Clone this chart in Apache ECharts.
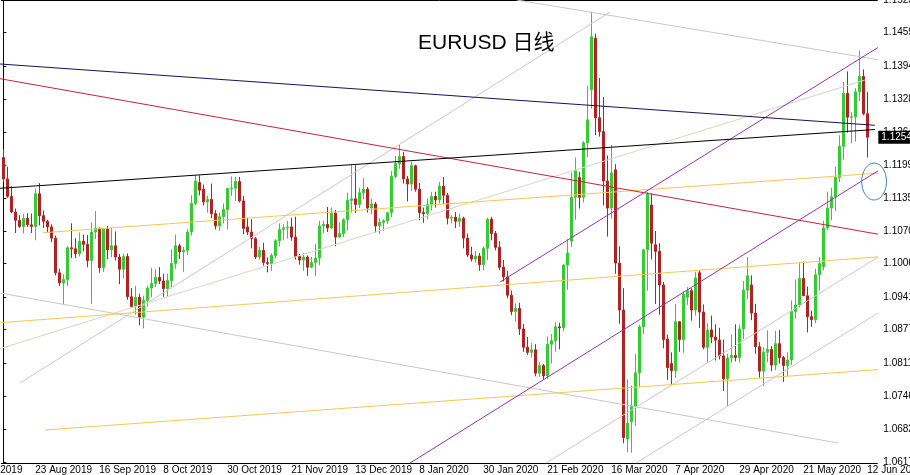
<!DOCTYPE html>
<html><head><meta charset="utf-8">
<script src="https://cdn.jsdelivr.net/npm/echarts@6/dist/echarts.min.js"></script>
<style>html,body{margin:0;padding:0;background:#fff}#c{width:910px;height:475px}</style>
</head><body><div id="c"></div>
<script>
// ---- DATA ----
const holidays = ['2019-12-25', '2020-01-01'];
// daily bars 13 Aug 2019 .. 12 Jun 2020 : [open, high, low, close]
const ohlc = [
[1.1214,1.1230,1.1166,1.1172],[1.1172,1.1196,1.1135,1.1138],[1.1138,1.1158,1.1105,1.1107],[1.1107,1.1114,1.1066,1.1091],
[1.1091,1.1101,1.1076,1.1079],[1.1079,1.1104,1.1065,1.1095],[1.1095,1.1105,1.1078,1.1082],[1.1082,1.1104,1.1066,1.1079],
[1.1079,1.1153,1.1052,1.1143],[1.1143,1.1164,1.1081,1.1100],[1.1100,1.1110,1.1076,1.1089],[1.1089,1.1092,1.1066,1.1078],
[1.1078,1.1083,1.1048,1.1056],[1.1056,1.1061,1.0983,1.0988],[1.0988,1.0996,1.0962,1.0968],[1.0968,1.0985,1.0926,1.0975],
[1.0975,1.1040,1.0962,1.1037],[1.1037,1.1085,1.1017,1.1035],[1.1035,1.1056,1.1017,1.1026],[1.1026,1.1067,1.1020,1.1050],
[1.1050,1.1063,1.1030,1.1044],[1.1044,1.1062,1.0999,1.1012],[1.1012,1.1087,1.0927,1.1068],[1.1068,1.1109,1.1054,1.1075],
[1.1075,1.1077,1.0988,1.0998],[1.0998,1.1075,1.0990,1.1074],[1.1074,1.1080,1.1015,1.1033],[1.1033,1.1076,1.1019,1.1041],
[1.1041,1.1069,1.1012,1.1019],[1.1019,1.1025,1.0966,1.0995],[1.0995,1.1025,1.0977,1.1020],[1.1020,1.1026,1.0935,1.0941],
[1.0941,1.0958,1.0920,1.0922],[1.0922,1.0962,1.0906,1.0940],[1.0940,1.0947,1.0885,1.0901],[1.0901,1.0943,1.0879,1.0934],
[1.0934,1.0963,1.0922,1.0958],[1.0958,1.0998,1.0940,1.0967],[1.0967,1.0995,1.0960,1.0979],[1.0979,1.0999,1.0966,1.0972],
[1.0972,1.0986,1.0941,1.0957],[1.0957,1.0986,1.0942,1.0973],[1.0973,1.1034,1.0960,1.1006],[1.1006,1.1063,1.0996,1.1041],
[1.1041,1.1045,1.1015,1.1029],[1.1029,1.1039,1.0990,1.1032],[1.1032,1.1074,1.1023,1.1068],[1.1068,1.1140,1.1061,1.1124],
[1.1124,1.1179,1.1120,1.1168],[1.1165,1.1179,1.1140,1.1150],[1.1152,1.1161,1.1120,1.1127],[1.1127,1.1139,1.1106,1.1132],
[1.1132,1.1163,1.1095,1.1104],[1.1104,1.1111,1.1073,1.1080],[1.1080,1.1106,1.1070,1.1098],[1.1098,1.1124,1.1085,1.1112],
[1.1112,1.1155,1.1073,1.1153],[1.1153,1.1177,1.1139,1.1154],[1.1154,1.1176,1.1129,1.1167],[1.1167,1.1176,1.1126,1.1129],
[1.1129,1.1139,1.1064,1.1075],[1.1078,1.1096,1.1062,1.1068],[1.1068,1.1093,1.1036,1.1055],[1.1055,1.1058,1.1015,1.1019],
[1.1019,1.1039,1.1014,1.1032],[1.1032,1.1047,1.1002,1.1008],[1.1008,1.1018,1.0989,1.1006],[1.1006,1.1026,1.0992,1.1022],
[1.1022,1.1054,1.1016,1.1051],[1.1051,1.1085,1.1040,1.1073],[1.1073,1.1083,1.1052,1.1076],[1.1076,1.1090,1.1055,1.1078],
[1.1078,1.1096,1.1051,1.1058],[1.1058,1.1098,1.1014,1.1020],[1.1020,1.1025,1.1004,1.1013],[1.1013,1.1027,1.0992,1.1019],
[1.1019,1.1022,1.0982,1.0999],[1.0999,1.1019,1.0997,1.1008],[1.1008,1.1045,1.0981,1.1017],[1.1017,1.1090,1.1003,1.1080],
[1.1080,1.1090,1.1066,1.1083],[1.1083,1.1117,1.1068,1.1076],[1.1076,1.1116,1.1074,1.1105],[1.1105,1.1111,1.1040,1.1058],
[1.1058,1.1087,1.1057,1.1065],[1.1065,1.1095,1.1058,1.1092],[1.1092,1.1145,1.1071,1.1130],[1.1130,1.1200,1.1106,1.1133],
[1.1133,1.1199,1.1105,1.1122],[1.1122,1.1155,1.1115,1.1145],[1.1145,1.1174,1.1132,1.1152],[1.1152,1.1156,1.1106,1.1115],
[1.1115,1.1133,1.1103,1.1123],[1.1123,1.1127,1.1067,1.1080],[1.1080,1.1095,1.1064,1.1087],[1.1087,1.1093,1.1070,1.1090],
[1.1090,1.1106,1.1084,1.1106],[1.1106,1.1188,1.1097,1.1177],[1.1177,1.1217,1.1173,1.1202],[1.1202,1.1240,1.1192,1.1216],
[1.1216,1.1225,1.1163,1.1172],[1.1172,1.1178,1.1128,1.1162],[1.1162,1.1206,1.1149,1.1198],[1.1198,1.1200,1.1147,1.1152],
[1.1152,1.1164,1.1091,1.1106],[1.1106,1.1116,1.1086,1.1104],[1.1104,1.1134,1.1093,1.1122],[1.1122,1.1147,1.1110,1.1138],
[1.1138,1.1147,1.1116,1.1131],[1.1131,1.1166,1.1124,1.1158],[1.1158,1.1176,1.1123,1.1140],[1.1140,1.1145,1.1083,1.1095],
[1.1095,1.1101,1.1085,1.1097],[1.1097,1.1107,1.1076,1.1089],[1.1089,1.1104,1.1078,1.1095],[1.1095,1.1098,1.1036,1.1056],
[1.1056,1.1065,1.1019,1.1023],[1.1023,1.1039,1.1010,1.1015],[1.1015,1.1031,1.1008,1.1021],[1.1021,1.1027,1.0992,1.1004],
[1.1004,1.1040,1.0993,1.1036],[1.1036,1.1096,1.1013,1.1093],[1.1093,1.1098,1.1052,1.1065],[1.1065,1.1070,1.1032,1.1038],
[1.1038,1.1050,1.0993,1.0999],[1.0999,1.1013,1.0971,1.0980],[1.0980,1.0992,1.0938,1.0944],[1.0944,1.0953,1.0905,1.0912],
[1.0912,1.0928,1.0892,1.0918],[1.0918,1.0929,1.0866,1.0878],[1.0878,1.0888,1.0833,1.0842],[1.0842,1.0862,1.0827,1.0832],
[1.0832,1.0850,1.0822,1.0837],[1.0837,1.0848,1.0785,1.0791],[1.0791,1.0813,1.0784,1.0806],[1.0806,1.0809,1.0778,1.0786],
[1.0786,1.0863,1.0780,1.0848],[1.0848,1.0868,1.0810,1.0855],[1.0855,1.0891,1.0833,1.0882],[1.0882,1.0890,1.0838,1.0880],
[1.0880,1.1005,1.0873,1.1003],[1.1003,1.1054,1.0955,1.1027],[1.1050,1.1185,1.1039,1.1136],[1.1136,1.1214,1.1092,1.1188],
[1.1175,1.1186,1.1114,1.1136],[1.1136,1.1246,1.1126,1.1243],[1.1243,1.1355,1.1215,1.1288],[1.1347,1.1500,1.1310,1.1451],
[1.1448,1.1457,1.1258,1.1292],[1.1292,1.1370,1.1255,1.1265],[1.1265,1.1333,1.1120,1.1168],[1.1168,1.1218,1.1059,1.1115],
[1.1115,1.1239,1.1094,1.1184],[1.1190,1.1201,1.0986,1.1007],[1.1007,1.1040,1.0888,1.0915],[1.0915,1.0958,1.0654,1.0665],
[1.0662,1.0779,1.0636,1.0693],[1.0696,1.0767,1.0635,1.0727],[1.0727,1.0829,1.0688,1.0792],[1.0792,1.0886,1.0765,1.0882],
[1.0882,1.1035,1.0868,1.1033],[1.1033,1.1147,1.0953,1.1142],[1.1121,1.1144,1.1014,1.1046],[1.1043,1.1070,1.0927,1.1030],
[1.1030,1.1046,1.0906,1.0964],[1.0964,1.0970,1.0840,1.0857],[1.0858,1.0867,1.0778,1.0802],[1.0810,1.0832,1.0769,1.0796],
[1.0796,1.0927,1.0782,1.0892],[1.0892,1.0893,1.0833,1.0857],[1.0857,1.0952,1.0831,1.0946],[1.0940,1.0960,1.0925,1.0953],
[1.0953,1.0958,1.0894,1.0915],[1.0915,1.0990,1.0904,1.0978],[1.0988,1.0993,1.0880,1.0911],[1.0911,1.0926,1.0838,1.0842],
[1.0842,1.0889,1.0812,1.0876],[1.0876,1.0904,1.0850,1.0862],[1.0862,1.0887,1.0816,1.0856],[1.0856,1.0880,1.0818,1.0825],
[1.0825,1.0857,1.0756,1.0780],[1.0780,1.0829,1.0727,1.0821],[1.0821,1.0867,1.0812,1.0826],[1.0826,1.0887,1.0814,1.0822],
[1.0822,1.0886,1.0812,1.0878],[1.0878,1.0972,1.0858,1.0954],[1.0954,1.1019,1.0936,1.0982],[1.0964,1.0983,1.0895,1.0909],
[1.0909,1.0927,1.0829,1.0843],[1.0843,1.0852,1.0782,1.0795],[1.0795,1.0842,1.0766,1.0832],[1.0832,1.0875,1.0813,1.0838],
[1.0838,1.0844,1.0795,1.0807],[1.0807,1.0874,1.0797,1.0849],[1.0849,1.0876,1.0810,1.0822],[1.0822,1.0825,1.0774,1.0806],
[1.0806,1.0832,1.0785,1.0817],[1.0817,1.0934,1.0807,1.0912],[1.0912,1.0975,1.0898,1.0925],[1.0925,1.1008,1.0920,1.0977],
[1.0977,1.1010,1.0944,1.0943],[1.0943,1.0961,1.0871,1.0902],[1.0902,1.0914,1.0882,1.0896],[1.0896,1.0996,1.0889,1.0984],
[1.0984,1.1019,1.0953,1.1006],[1.1000,1.1090,1.0993,1.1076],[1.1076,1.1147,1.1072,1.1115],[1.1115,1.1155,1.1091,1.1137],
[1.1137,1.1196,1.1109,1.1175],[1.1175,1.1258,1.1166,1.1236],[1.1236,1.1362,1.1210,1.1340],[1.1340,1.1383,1.1263,1.1293],
[1.1293,1.1303,1.1242,1.1294],[1.1294,1.1350,1.1245,1.1343],[1.1343,1.1424,1.1325,1.1373],[1.1373,1.1387,1.1297,1.1300],
[1.1300,1.1343,1.1214,1.1254]
];
const xLabels = ['1 Aug 2019','23 Aug 2019','16 Sep 2019','8 Oct 2019','30 Oct 2019','21 Nov 2019','13 Dec 2019','8 Jan 2020',
  '30 Jan 2020','21 Feb 2020','16 Mar 2020','7 Apr 2020','29 Apr 2020','21 May 2020','12 Jun 2020'];
const yTicks = [1.1523,1.1459,1.1394,1.1328,1.1264,1.1199,1.1135,1.1070,1.1006,1.0941,1.0877,1.0811,1.0746,1.0682,1.0617];
const lastPrice = 1.1254;
// trend lines: [barIndex, price] endpoints
const blackLine   = [[-0.83, 1.11537], [217.9, 1.12690]];
const navyLine    = [[-0.83, 1.13975], [217.9, 1.12773]];
const redLine     = [[-0.83, 1.13687], [221.2, 1.10602]];
const purpleUpper = [[124.2, 1.09700], [221.7, 1.14446]];
const purpleLower = [[101.7, 1.06150], [220.2, 1.11955]];
const goldUpper   = [[9.93, 1.10666], [219.2, 1.11837]];
const goldMiddle  = [[-0.83, 1.08901], [219.2, 1.10196]];
const goldLower   = [[10.4, 1.06797], [219.2, 1.07984]];
const grayTop     = [[128.4, 1.15230], [219.2, 1.14053]];
const grayFall    = [[-0.83, 1.09484], [208.7, 1.06542]];
const grayRiseA   = [[4.18, 1.07719], [151.7, 1.14995]];
const grayRiseB   = [[135.7, 1.06150], [218.7, 1.10190]];
const grayRiseC   = [[158.2, 1.06150], [218.7, 1.09092]];
const grayRiseD   = [[-0.83, 1.08392], [215.4, 1.13661]];
const ellipse     = [217.7, 1.1167, 3.1, 0.00363]; // centre bar, centre price, half-width (bars), half-height (price)

// ---- BUILD ----
const MONTHS = ['Jan','Feb','Mar','Apr','May','Jun','Jul','Aug','Sep','Oct','Nov','Dec'];
function tradingDays(n) {
  const out = []; let t = Date.UTC(2019, 7, 13);
  while (out.length < n) {
    const d = new Date(t), wd = d.getUTCDay(), iso = d.toISOString().slice(0, 10);
    if (wd !== 0 && wd !== 6 && !holidays.includes(iso))
      out.push(d.getUTCDate() + ' ' + MONTHS[d.getUTCMonth()] + ' ' + d.getUTCFullYear());
    t += 86400000;
  }
  return out;
}
const dates = tradingDays(ohlc.length);
const cats = dates.concat(['~pad1', '~pad2']);
const N = cats.length;
const FONT = 'Liberation Sans';

const lineSeries = (pts, color, width) => ({
  type: 'line', xAxisIndex: 1, yAxisIndex: 0, data: pts, symbol: 'none', clip: false, silent: true,
  lineStyle: { color: color, width: width || 1 }, z: 3, animation: false
});

const chart = echarts.init(document.getElementById('c'), null, { renderer: 'canvas' });
chart.setOption({
  animation: false,
  backgroundColor: '#fff',
  title: {
    text: 'EURUSD 日线', left: 418, top: 33, padding: 0,
    textStyle: { fontSize: 21, fontWeight: 'normal', color: '#000', fontFamily: FONT + ', Noto Sans CJK SC' }
  },
  grid: { left: 1.3, right: 32.7, top: 0, bottom: 12, containLabel: false, outerBoundsMode: 'none' },
  xAxis: [{
    type: 'category', data: cats, boundaryGap: true,
    axisLine: { lineStyle: { color: '#000', width: 1 } },
    axisTick: { alignWithLabel: true, length: 4, lineStyle: { color: '#000' },
      interval: (i, v) => xLabels.includes(v) },
    axisLabel: { interval: (i, v) => xLabels.includes(v), align: 'left', margin: 2,
      color: '#000', fontSize: 10, fontFamily: FONT },
    splitLine: { show: false }
  }, {
    type: 'value', min: -0.5, max: N - 0.5, position: 'top',
    axisLine: { show: true, onZero: false, lineStyle: { color: '#000' } },
    axisTick: { show: false }, axisLabel: { show: false }, splitLine: { show: false }
  }],
  yAxis: {
    type: 'value', position: 'right', min: 1.0615, max: 1.1523, scale: true,
    axisLine: { show: true, lineStyle: { color: '#000' } },
    axisTick: { show: true, length: 3, customValues: yTicks, lineStyle: { color: '#000' } },
    axisLabel: { customValues: yTicks, formatter: v => v.toFixed(4), color: '#000', fontSize: 10,
      fontFamily: FONT, margin: 6 },
    splitLine: { show: false }
  },
  series: [
    {
      type: 'candlestick', xAxisIndex: 0, yAxisIndex: 0, z: 2, barWidth: 2,
      data: ohlc.map(r => [r[0], r[3], r[2], r[1]]),
      itemStyle: { color: '#33CC33', color0: '#B22222', borderColor: '#33CC33', borderColor0: '#B22222', borderWidth: 1 }
    },
    lineSeries(grayTop, '#c8c8c8'),
    lineSeries(grayFall, '#c8c8c8'),
    lineSeries(grayRiseA, '#c8c8c8'),
    lineSeries(grayRiseB, '#c8c8c8'),
    lineSeries(grayRiseC, '#c8c8c8'),
    lineSeries(grayRiseD, '#d8d4c8'),
    lineSeries(goldUpper, '#f2c94e'),
    lineSeries(goldMiddle, '#f2c94e'),
    lineSeries(goldLower, '#f2c94e'),
    lineSeries(redLine, '#c4243c'),
    lineSeries(purpleUpper, '#9b2fb0'),
    lineSeries(purpleLower, '#9b2fb0'),
    lineSeries(navyLine, '#14145a'),
    lineSeries(blackLine, '#000000'),
    {
      type: 'custom', xAxisIndex: 1, yAxisIndex: 0, clip: false, silent: true, z: 4,
      data: [ellipse],
      renderItem: (params, api) => {
        const c = api.coord([api.value(0), api.value(1)]);
        const s = api.size([api.value(2), api.value(3)]);
        return { type: 'ellipse', shape: { cx: c[0], cy: c[1], rx: s[0], ry: s[1] },
          style: { fill: 'none', stroke: '#3b86b0', lineWidth: 1 } };
      }
    },
    {
      // current price tag on the price scale
      type: 'custom', xAxisIndex: 1, yAxisIndex: 0, clip: false, silent: true, z: 10,
      data: [[N - 0.5, lastPrice]],
      renderItem: (params, api) => {
        const c = api.coord([api.value(0), api.value(1)]);
        return { type: 'text', x: c[0] + 1, y: c[1],
          style: { text: lastPrice.toFixed(4), fill: '#fff', backgroundColor: '#000', padding: [2, 6, 1, 3],
            fontSize: 10, fontFamily: FONT, align: 'left', verticalAlign: 'middle' } };
      }
    }
  ]
});
// clipped first time label, left of the first bar
const lx = chart.convertToPixel({ xAxisIndex: 1 }, -8);
const ly = chart.convertToPixel({ yAxisIndex: 0 }, 1.0615);
chart.setOption({ graphic: [{ type: 'text', x: lx, y: ly + 2, silent: true,
  style: { text: xLabels[0], fill: '#000', fontSize: 10, fontFamily: FONT, align: 'left', verticalAlign: 'top' } }] });
</script></body></html>
